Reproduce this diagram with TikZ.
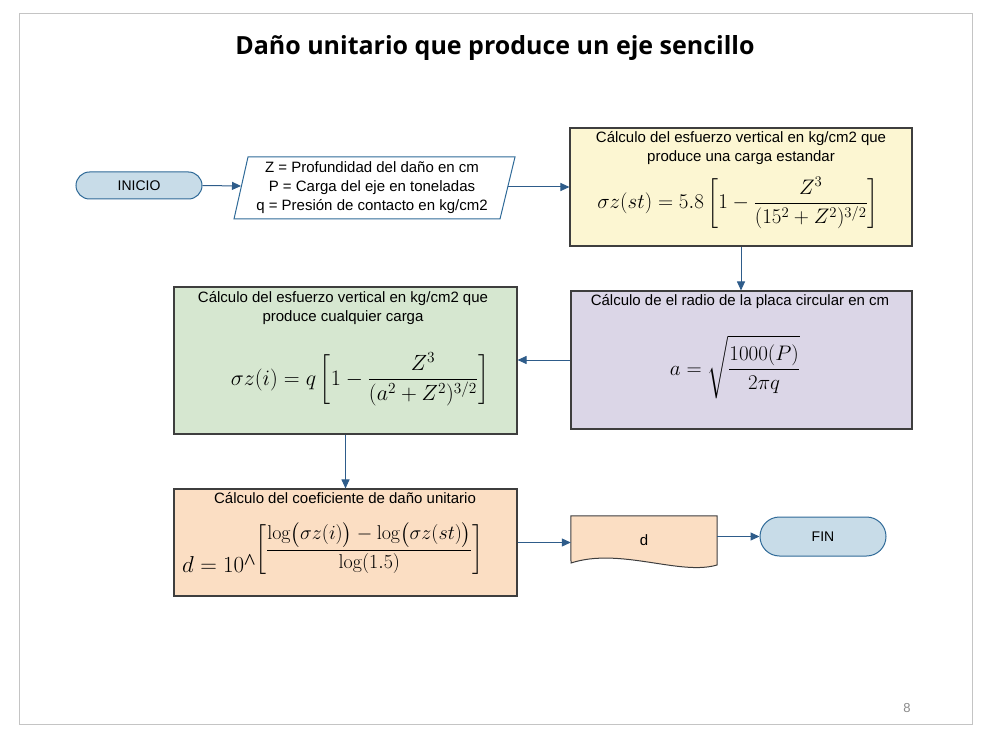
\RequirePackage{fix-cm}
\documentclass[tikz,border=0pt]{standalone}
\usepackage{amsmath}
\usepackage{fontspec}
\newfontfamily\arialf{Liberation Sans}
\newfontfamily\titlef{Open Sans}
\newfontfamily\timesf{Liberation Serif}
\usetikzlibrary{arrows.meta,calc,shapes.misc}
\definecolor{frame}{HTML}{C4C4C4}
\definecolor{termfill}{HTML}{C8DCE8}
\definecolor{termdraw}{HTML}{2F6A98}
\definecolor{arrowc}{HTML}{2E5C8A}
\definecolor{yelfill}{HTML}{FCF6D2}
\definecolor{purfill}{HTML}{DBD6E7}
\definecolor{grnfill}{HTML}{D6E7D0}
\definecolor{orafill}{HTML}{FBDEC3}
\definecolor{boxdraw}{HTML}{3E3E3E}
\definecolor{pagenum}{HTML}{8A8A8A}
\begin{document}
\begin{tikzpicture}[x=1pt,y=-1pt,
  txt/.style={font=\arialf\fontsize{15}{19}\selectfont, align=center, inner sep=0pt},
  term/.style={rounded rectangle, draw=termdraw, fill=termfill, line width=1pt, inner sep=0pt, font=\arialf\fontsize{14}{17}\selectfont},
  procbox/.style={rectangle, draw=boxdraw, line width=1.1pt, inner sep=0pt},
  conn/.style={draw=arrowc, line width=1pt, -{Triangle[length=9pt,width=8pt]}},
  mathf/.style={inner sep=0pt, font=\fontsize{21}{25}\selectfont}
]
\useasboundingbox (0,0) rectangle (987,743);
\draw[frame, line width=1pt] (19,14) rectangle (972,724);
\node[font=\titlef\bfseries\fontsize{25}{29}\selectfont, inner sep=0pt] (title) at (495,48) {Daño unitario que produce un eje sencillo};
\node[font=\arialf\fontsize{13}{15}\selectfont, text=pagenum, inner sep=0pt] (page) at (907,708) {8};

% INICIO
\node[term, minimum width=126pt, minimum height=27pt] (ini) at (139,185.5) {INICIO};

% parallelogram
\draw[draw=termdraw, line width=1pt, fill=white] (248,157) -- (515,157) -- (500,219) -- (234,219) -- cycle;
\node[txt] (par) at (372,188) {Z = Profundidad del daño en cm\\P = Carga del eje en toneladas\\q = Presión de contacto en kg/cm2};
\coordinate (parW) at (241,186);
\coordinate (parE) at (508,187);

% yellow
\node[procbox, fill=yelfill, minimum width=342pt, minimum height=118pt] (yel) at (741,187) {};
\node[txt] (yelT) at (741,148) {Cálculo del esfuerzo vertical en kg/cm2 que\\produce una carga estandar};
\node[mathf] (yelF) at (738,203) {$\displaystyle \sigma z(st) = 5.8\left[1-\frac{Z^3}{(15^2+Z^2)^{3/2}}\right]$};

% purple
\node[procbox, fill=purfill, minimum width=341pt, minimum height=138pt] (pur) at (741.5,360) {};
\node[txt] (purT) at (740,302) {Cálculo de el radio de la placa circular en cm};
\node[mathf] (purF) at (735,367) {$\displaystyle a=\sqrt{\frac{1000(P)}{2\pi q}}$};

% green
\node[procbox, fill=grnfill, minimum width=343pt, minimum height=147pt] (grn) at (345.5,360.5) {};
\node[txt] (grnT) at (343,308) {Cálculo del esfuerzo vertical en kg/cm2 que\\produce cualquier carga};
\node[mathf, font=\fontsize{22}{26}\selectfont] (grnF) at (360,379) {$\displaystyle \sigma z(i) = q\left[1-\frac{Z^3}{(a^2+Z^2)^{3/2}}\right]$};

% orange
\node[procbox, fill=orafill, minimum width=343pt, minimum height=107pt] (ora) at (345.5,542.5) {};
\node[txt] (oraT) at (345,498.5) {Cálculo del coeficiente de daño unitario};
\node[mathf, anchor=base west] (oraF) at (182,572) {\fontsize{23}{27}\selectfont$d = 10$\raisebox{0.1em}{\timesf\char"5E}\raisebox{17pt}{\fontsize{20}{24}\selectfont$\biggl[\dfrac{\log\bigl(\sigma z(i)\bigr)-\log\bigl(\sigma z(st)\bigr)}{\log(1.5)}\biggr]$}};

% document d
\node[rectangle, minimum width=146pt, minimum height=50pt, inner sep=0pt] (doc) at (644,541) {};
\draw[draw=boxdraw, line width=1pt, fill=orafill] (doc.north west) -- (doc.north east) -- (717,565) .. controls (680,576) and (620,547) .. (571,563) -- cycle;
\node[txt] (docT) at (644,540) {d};

% FIN
\node[term, minimum width=126pt, minimum height=39pt] (fin) at (823,536.5) {FIN};

% connectors
\draw[conn] (ini.east) -- (parW);
\draw[conn] (parE) -- (parE -| yel.west);
\draw[conn] (yel.south) -- (yel.south |- pur.north);
\draw[conn] (pur.west) -- (pur.west -| grn.east);
\draw[conn] (grn.south) -- (grn.south |- ora.north);
\draw[conn] (ora.east) -- (ora.east -| doc.west);
\draw[conn] (fin.west -| doc.east) -- (fin.west);
\end{tikzpicture}
\end{document}
